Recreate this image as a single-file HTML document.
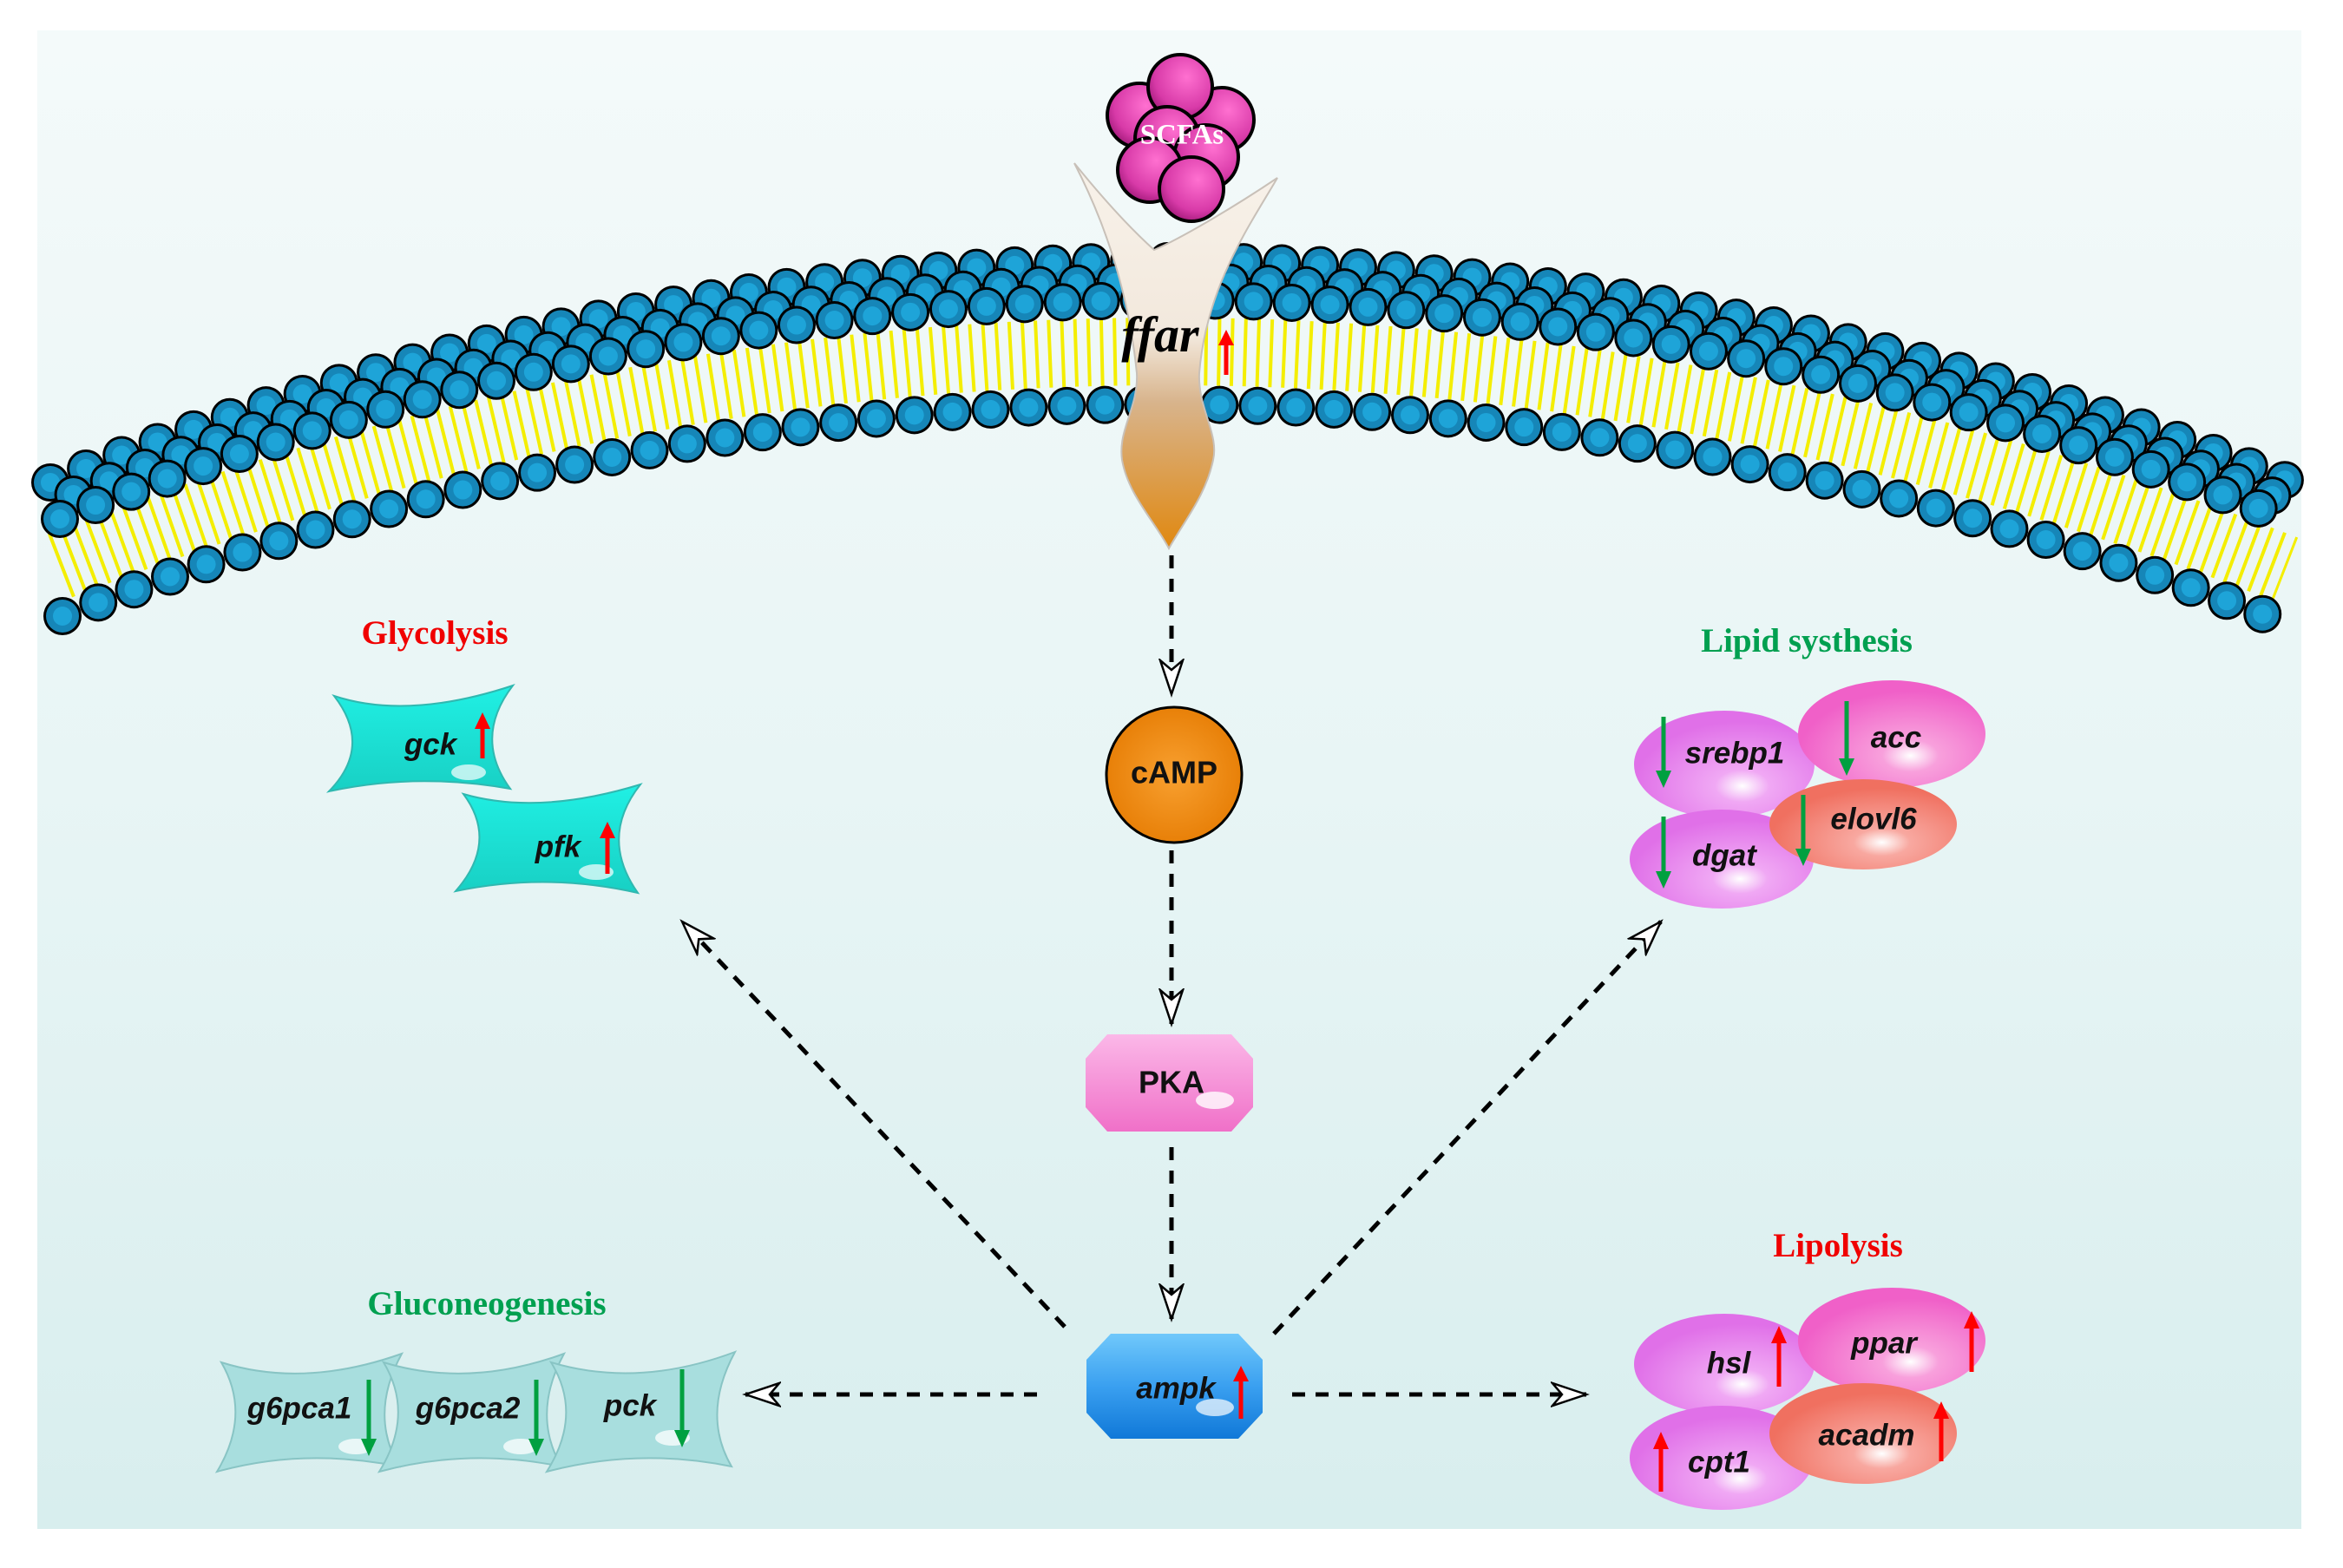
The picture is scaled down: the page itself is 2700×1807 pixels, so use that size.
<!DOCTYPE html>
<html><head><meta charset="utf-8">
<style>
html,body{margin:0;padding:0;background:#fff;}
svg{display:block;}
.g{font-family:"Liberation Sans",sans-serif;font-weight:bold;font-style:italic;font-size:35px;fill:#111;text-anchor:middle;dominant-baseline:middle;}
.t{font-family:"Liberation Serif",serif;font-weight:bold;font-size:39px;text-anchor:middle;dominant-baseline:middle;}
</style></head>
<body>
<svg width="2700" height="1807" viewBox="0 0 2700 1807" xmlns="http://www.w3.org/2000/svg">
<defs>
<linearGradient id="bg" x1="0" y1="0" x2="0" y2="1">
<stop offset="0" stop-color="#f4fafa"/><stop offset="0.5" stop-color="#e8f5f5"/><stop offset="1" stop-color="#d8eeee"/>
</linearGradient>
<linearGradient id="rec" x1="0" y1="0" x2="0" y2="1">
<stop offset="0" stop-color="#f8f2ea"/><stop offset="0.45" stop-color="#f2e8dc"/><stop offset="0.62" stop-color="#d8b48c"/><stop offset="1" stop-color="#e08810"/>
</linearGradient>
<radialGradient id="ball" cx="0.6" cy="0.35" r="0.7">
<stop offset="0" stop-color="#ff70d0"/><stop offset="0.7" stop-color="#d83aa8"/><stop offset="1" stop-color="#a01878"/>
</radialGradient>
<radialGradient id="camp" cx="0.5" cy="0.5" r="0.5">
<stop offset="0" stop-color="#f8a030"/><stop offset="1" stop-color="#e88008"/>
</radialGradient>
<linearGradient id="pka" x1="0" y1="0" x2="0" y2="1">
<stop offset="0" stop-color="#fbb8e8"/><stop offset="1" stop-color="#f070c8"/>
</linearGradient>
<linearGradient id="ampk" x1="0" y1="0" x2="0" y2="1">
<stop offset="0" stop-color="#70c8fb"/><stop offset="0.5" stop-color="#3aa0f0"/><stop offset="1" stop-color="#1078d8"/>
</linearGradient>
<radialGradient id="vio" cx="0.6" cy="0.7" r="0.6">
<stop offset="0" stop-color="#ffffff"/><stop offset="0.25" stop-color="#f0a8f4"/><stop offset="1" stop-color="#e070e8"/>
</radialGradient>
<radialGradient id="pnk" cx="0.6" cy="0.7" r="0.6">
<stop offset="0" stop-color="#ffffff"/><stop offset="0.25" stop-color="#f8a0dc"/><stop offset="1" stop-color="#f060c8"/>
</radialGradient>
<radialGradient id="sal" cx="0.6" cy="0.7" r="0.6">
<stop offset="0" stop-color="#ffffff"/><stop offset="0.25" stop-color="#f8a8a0"/><stop offset="1" stop-color="#f07060"/>
</radialGradient>
<linearGradient id="teal" x1="0" y1="0" x2="0" y2="1">
<stop offset="0" stop-color="#20f0e4"/><stop offset="1" stop-color="#18d0c4"/>
</linearGradient>
<marker id="ah" markerUnits="userSpaceOnUse" markerWidth="46" markerHeight="32" refX="41" refY="15" orient="auto" viewBox="0 0 46 32">
<path d="M41 15 L2 2 L13 15 L2 28 Z" fill="#fff" stroke="#000" stroke-width="2.5"/>
</marker>
</defs>

<rect x="43" y="35" width="2609" height="1727" fill="url(#bg)"/>

<path d="M69 652 Q1347 156 2634 656" fill="none" stroke="#f4ee00" stroke-width="78" stroke-dasharray="4 11"/>
<g fill="none" stroke-linecap="round" stroke-dasharray="0 44">
<path d="M58 556 Q1347 46 2640 556" stroke="#000" stroke-width="44"/>
<path d="M58 556 Q1347 46 2640 556" stroke="#1686b8" stroke-width="38"/>
<path d="M58 556 Q1347 46 2640 556" stroke="#1ea4d8" stroke-width="22"/>
<path d="M64 578 Q1347 72 2636 578" stroke="#000" stroke-width="44" stroke-dashoffset="22"/>
<path d="M64 578 Q1347 72 2636 578" stroke="#1686b8" stroke-width="38" stroke-dashoffset="22"/>
<path d="M64 578 Q1347 72 2636 578" stroke="#1ea4d8" stroke-width="22" stroke-dashoffset="22"/>
<path d="M69 598 Q1347 94 2634 598" stroke="#000" stroke-width="44"/>
<path d="M69 598 Q1347 94 2634 598" stroke="#1686b8" stroke-width="38"/>
<path d="M69 598 Q1347 94 2634 598" stroke="#1ea4d8" stroke-width="22"/>
<path d="M72 710 Q1347 218 2634 718" stroke="#000" stroke-width="44"/>
<path d="M72 710 Q1347 218 2634 718" stroke="#1686b8" stroke-width="38"/>
<path d="M72 710 Q1347 218 2634 718" stroke="#1ea4d8" stroke-width="22"/>
</g>

<path d="M1238 188 C1280 240 1310 270 1330 288 C1360 275 1420 240 1472 205 C1440 260 1390 330 1382 430 C1380 470 1405 500 1398 530 C1390 570 1365 600 1347 632 C1330 600 1300 570 1293 530 C1288 495 1312 470 1310 430 C1300 330 1270 250 1238 188 Z" fill="url(#rec)" stroke="#c8c0b8" stroke-width="2"/>

<g fill="url(#ball)" stroke="#000" stroke-width="4">
<circle cx="1313" cy="133" r="37"/>
<circle cx="1408" cy="138" r="37"/>
<circle cx="1360" cy="100" r="37"/>
<circle cx="1345" cy="160" r="37"/>
<circle cx="1390" cy="181" r="37"/>
<circle cx="1325" cy="196" r="37"/>
<circle cx="1373" cy="218" r="37"/>
</g>
<text x="1362" y="158" class="t" fill="#fff" style="font-size:33px">SCFAs</text>

<text x="1337" y="405" font-family="Liberation Serif,serif" font-weight="bold" font-style="italic" font-size="58" text-anchor="middle" fill="#000">ffar</text>
<path d="M1413 432 V395" stroke="#f00" stroke-width="5"/><path d="M1404 398 L1413 380 L1422 398 Z" fill="#f00"/>

<g fill="none" stroke="#000" stroke-width="5" stroke-dasharray="15 12" marker-end="url(#ah)">
<line x1="1350" y1="640" x2="1350" y2="800"/>
<line x1="1350" y1="980" x2="1350" y2="1180"/>
<line x1="1350" y1="1322" x2="1350" y2="1520"/>
<line x1="1227" y1="1529" x2="786" y2="1062"/>
<line x1="1468" y1="1537" x2="1914" y2="1062"/>
<line x1="1195" y1="1607" x2="859" y2="1607"/>
<line x1="1489" y1="1607" x2="1828" y2="1607"/>
</g>

<circle cx="1353" cy="893" r="78" fill="url(#camp)" stroke="#000" stroke-width="3"/>
<text x="1353" y="893" class="g" style="font-style:normal;font-size:36px">cAMP</text>
<path d="M1276 1192 H1419 L1444 1220 V1276 L1419 1304 H1276 L1251 1276 V1220 Z" fill="url(#pka)"/>
<ellipse cx="1400" cy="1268" rx="22" ry="10" fill="#fff" opacity="0.8"/>
<text x="1350" y="1250" class="g" style="font-style:normal;font-size:36px">PKA</text>
<path d="M1280 1537 H1427 L1455 1567 V1628 L1427 1658 H1280 L1252 1628 V1567 Z" fill="url(#ampk)"/>
<ellipse cx="1400" cy="1622" rx="22" ry="10" fill="#fff" opacity="0.7"/>
<text x="1355" y="1602" class="g">ampk</text>
<path d="M1430 1635 V1590" stroke="#f00" stroke-width="5"/><path d="M1421 1592 L1430 1574 L1439 1592 Z" fill="#f00"/>

<text x="501" y="733" class="t" fill="#f00000">Glycolysis</text>
<text x="2082" y="742" class="t" fill="#00a050">Lipid systhesis</text>
<text x="2118" y="1439" class="t" fill="#f00000">Lipolysis</text>
<text x="561" y="1506" class="t" fill="#00a050">Gluconeogenesis</text>

<path d="M385 802 Q470 830 591 790 Q545 850 588 909 Q480 890 379 912 Q430 860 385 802 Z" fill="url(#teal)" stroke="#30b8b0" stroke-width="2"/>
<ellipse cx="540" cy="890" rx="20" ry="9" fill="#fff" opacity="0.7"/>
<text x="496" y="860" class="g">gck</text>
<path d="M534 915 Q620 940 738 904 Q690 965 735 1029 Q630 1005 525 1027 Q575 970 534 915 Z" fill="url(#teal)" stroke="#30b8b0" stroke-width="2"/>
<ellipse cx="687" cy="1005" rx="20" ry="9" fill="#fff" opacity="0.7"/>
<text x="643" y="978" class="g">pfk</text>
<g stroke="#f00" stroke-width="5"><path d="M556 874 V838"/><path d="M700 1007 V964"/></g>
<g fill="#f00"><path d="M547 840 L556 821 L565 840 Z"/><path d="M691 966 L700 947 L709 966 Z"/></g>

<g fill="#a8dede" stroke="#88c4c4" stroke-width="2">
<path d="M255 1570 Q350 1600 463 1560 Q425 1630 460 1690 Q350 1668 250 1696 Q290 1630 255 1570 Z"/>
<path d="M442 1570 Q540 1600 650 1560 Q612 1630 647 1690 Q540 1668 437 1696 Q478 1630 442 1570 Z"/>
<path d="M635 1570 Q735 1600 847 1558 Q808 1630 843 1690 Q735 1668 630 1696 Q672 1630 635 1570 Z"/>
</g>
<g fill="#fff" opacity="0.75"><ellipse cx="410" cy="1667" rx="20" ry="9"/><ellipse cx="600" cy="1667" rx="20" ry="9"/><ellipse cx="775" cy="1657" rx="20" ry="9"/></g>
<text x="345" y="1625" class="g">g6pca1</text>
<text x="539" y="1625" class="g">g6pca2</text>
<text x="726" y="1622" class="g">pck</text>
<g stroke="#00a040" stroke-width="5"><path d="M425 1590 V1660"/><path d="M618 1590 V1660"/><path d="M786 1578 V1650"/></g>
<g fill="#00a040"><path d="M416 1658 L425 1678 L434 1658 Z"/><path d="M609 1658 L618 1678 L627 1658 Z"/><path d="M777 1648 L786 1668 L795 1648 Z"/></g>

<ellipse cx="1987" cy="881" rx="104" ry="62" fill="url(#vio)"/>
<ellipse cx="2180" cy="846" rx="108" ry="62" fill="url(#pnk)"/>
<ellipse cx="1984" cy="990" rx="106" ry="57" fill="url(#vio)"/>
<ellipse cx="2147" cy="950" rx="108" ry="52" fill="url(#sal)"/>
<text x="1999" y="870" class="g">srebp1</text>
<text x="2185" y="852" class="g">acc</text>
<text x="2159" y="946" class="g">elovl6</text>
<text x="1987" y="988" class="g">dgat</text>
<g stroke="#00a040" stroke-width="5"><path d="M1917 826 V890"/><path d="M2128 808 V876"/><path d="M2078 916 V980"/><path d="M1917 941 V1006"/></g>
<g fill="#00a040"><path d="M1908 888 L1917 908 L1926 888 Z"/><path d="M2119 874 L2128 894 L2137 874 Z"/><path d="M2069 978 L2078 998 L2087 978 Z"/><path d="M1908 1004 L1917 1024 L1926 1004 Z"/></g>

<ellipse cx="1987" cy="1572" rx="104" ry="58" fill="url(#vio)"/>
<ellipse cx="2180" cy="1545" rx="108" ry="61" fill="url(#pnk)"/>
<ellipse cx="1984" cy="1680" rx="106" ry="60" fill="url(#vio)"/>
<ellipse cx="2147" cy="1652" rx="108" ry="58" fill="url(#sal)"/>
<text x="1992" y="1573" class="g">hsl</text>
<text x="2171" y="1550" class="g">ppar</text>
<text x="2151" y="1656" class="g">acadm</text>
<text x="1981" y="1687" class="g">cpt1</text>
<g stroke="#f00" stroke-width="5"><path d="M2050 1598 V1545"/><path d="M2272 1581 V1528"/><path d="M2237 1684 V1632"/><path d="M1914 1719 V1667"/></g>
<g fill="#f00"><path d="M2041 1548 L2050 1528 L2059 1548 Z"/><path d="M2263 1531 L2272 1511 L2281 1531 Z"/><path d="M2228 1635 L2237 1615 L2246 1635 Z"/><path d="M1905 1670 L1914 1650 L1923 1670 Z"/></g>
</svg>
</body></html>
